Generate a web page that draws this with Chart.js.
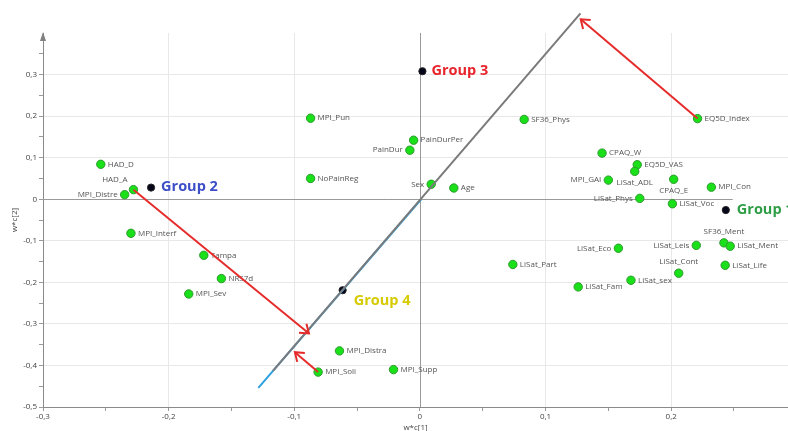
<!DOCTYPE html>
<html>
<head>
<meta charset="utf-8">
<script src="https://cdn.jsdelivr.net/npm/chart.js@4"></script>
<style>
  html, body { margin: 0; padding: 0; background: #fff; }
  #wrap { width: 788px; height: 431px; position: relative; }
</style>
</head>
<body>
<div id="wrap"><canvas id="plot"></canvas></div>
<script>
// loadings w*c[1] / w*c[2]
const varNames = ['HAD_D', 'HAD_A', 'MPI_Distre', 'MPI_Interf', 'Tampa', 'NRS7d', 'MPI_Sev',
  'MPI_Pun', 'PainDurPer', 'PainDur', 'NoPainReg', 'Sex', 'Age', 'SF36_Phys', 'EQ5D_Index',
  'CPAQ_W', 'EQ5D_VAS', 'LiSat_ADL', 'MPI_GAI', 'CPAQ_E', 'MPI_Con', 'LiSat_Phys', 'LiSat_Voc',
  'SF36_Ment', 'LiSat_Ment', 'LiSat_Leis', 'LiSat_Eco', 'LiSat_Life', 'LiSat_Cont', 'LiSat_sex',
  'LiSat_Fam', 'LiSat_Part', 'MPI_Distra', 'MPI_Soli', 'MPI_Supp'];
const varX = [-0.254, -0.228, -0.235, -0.230, -0.172, -0.158, -0.184,
  -0.087, -0.005, -0.008, -0.087, 0.009, 0.027, 0.083, 0.221,
  0.145, 0.173, 0.171, 0.150, 0.202, 0.232, 0.175, 0.201,
  0.242, 0.247, 0.220, 0.158, 0.243, 0.206, 0.168,
  0.126, 0.074, -0.064, -0.081, -0.021];
const varY = [0.084, 0.023, 0.011, -0.082, -0.135, -0.191, -0.228,
  0.195, 0.142, 0.118, 0.050, 0.036, 0.027, 0.192, 0.194,
  0.111, 0.083, 0.067, 0.046, 0.048, 0.029, 0.002, -0.011,
  -0.105, -0.113, -0.111, -0.118, -0.159, -0.178, -0.195,
  -0.211, -0.157, -0.365, -0.416, -0.410];

const groupNames = ['Group 1', 'Group 2', 'Group 3', 'Group 4'];
const groupX = [0.2435, -0.214, 0.002, -0.0615];
const groupY = [-0.026, 0.028, 0.308, -0.219];

const blueLineX = [-0.1286, 0.001];
const blueLineY = [-0.454, 0];
const grayLineX = [-0.117, 0.1278];
const grayLineY = [-0.413, 0.447];

const arrowFromX = [-0.228, -0.081, 0.221];
const arrowFromY = [0.023, -0.416, 0.194];
const arrowToX = [-0.0883, -0.0995, 0.128];
const arrowToY = [-0.323, -0.368, 0.433];

const xTicks = [-0.3, -0.2, -0.1, 0, 0.1, 0.2];
const yTicks = [-0.5, -0.4, -0.3, -0.2, -0.1, 0, 0.1, 0.2, 0.3];

const FONT = '"Open Sans", "DejaVu Sans", sans-serif';
const groupColors = ['#2e9e46', '#3d4fc8', '#e8242c', '#d6cb00'];
const groupOffsets = [[11, 0], [10, -1], [9, 0], [11, 11]];

const leftLabels = ['MPI_Distre', 'PainDur', 'Sex', 'MPI_GAI', 'LiSat_Phys', 'LiSat_Leis', 'LiSat_Eco'];
const aboveLabels = ['SF36_Ment', 'LiSat_Cont'];
const belowLabels = ['LiSat_ADL', 'CPAQ_E'];
const aboveLeftLabels = ['HAD_A'];

function isMajor(v, majors) {
  return majors.some(m => Math.abs(m - v) < 1e-6);
}
function withMinor(majors) {
  const out = [];
  majors.forEach(m => { out.push(m); out.push(+(m + 0.05).toFixed(2)); });
  return out;
}
function fmt(v) {
  if (Math.abs(v) < 1e-9) return '0';
  return v.toFixed(1).replace('.', ',');
}

const pts = (xs, ys) => xs.map((x, i) => ({ x: x, y: ys[i] }));

const datasets = [];
for (let i = 0; i < arrowFromX.length; i++) {
  datasets.push({
    data: [{ x: arrowFromX[i], y: arrowFromY[i] }, { x: arrowToX[i], y: arrowToY[i] }],
    showLine: true, borderColor: '#e62b2b', borderWidth: 2, pointRadius: 0, clip: false
  });
}
datasets.push({ data: pts(grayLineX, grayLineY), showLine: true, borderColor: '#7a7a7a',
  borderWidth: 2, pointRadius: 0, clip: false });
datasets.push({ data: pts(blueLineX, blueLineY), showLine: true, borderColor: '#2fa0e0',
  borderWidth: 2, pointRadius: 0, clip: false });
datasets.push({ data: pts(groupX, groupY), pointRadius: 3.6, backgroundColor: '#06061a',
  borderColor: '#222', borderWidth: 1 });
datasets.push({ data: pts(varX, varY), pointRadius: 4.2, backgroundColor: '#19e019',
  borderColor: '#2b9a2b', borderWidth: 1 });

const annotate = {
  id: 'annotate',
  beforeDatasetsDraw(chart) {
    const ctx = chart.ctx, xs = chart.scales.x, ys = chart.scales.y;
    ctx.save();
    // zero lines
    ctx.strokeStyle = '#9a9a9a';
    ctx.lineWidth = 1;
    ctx.beginPath();
    const y0 = Math.round(ys.getPixelForValue(0)) + 0.5;
    ctx.moveTo(xs.left, y0);
    ctx.lineTo(xs.getPixelForValue(0.249), y0);
    const x0 = Math.round(xs.getPixelForValue(0)) + 0.5;
    ctx.moveTo(x0, ys.top);
    ctx.lineTo(x0, ys.bottom);
    ctx.stroke();

    // variable labels
    ctx.font = '8px ' + FONT;
    ctx.fillStyle = '#555';
    ctx.textBaseline = 'middle';
    varNames.forEach((n, i) => {
      const px = xs.getPixelForValue(varX[i]);
      const py = ys.getPixelForValue(varY[i]);
      if (leftLabels.includes(n)) {
        ctx.textAlign = 'right'; ctx.fillText(n, px - 7, py);
      } else if (aboveLabels.includes(n)) {
        ctx.textAlign = 'center'; ctx.fillText(n, px, py - 11);
      } else if (belowLabels.includes(n)) {
        ctx.textAlign = 'center'; ctx.fillText(n, px, py + 11);
      } else if (aboveLeftLabels.includes(n)) {
        ctx.textAlign = 'right'; ctx.fillText(n, px - 6, py - 10);
      } else {
        ctx.textAlign = 'left'; ctx.fillText(n, px + 7, py);
      }
    });

    // group labels
    ctx.font = 'bold 14.5px ' + FONT;
    ctx.textAlign = 'left';
    groupNames.forEach((g, i) => {
      ctx.fillStyle = groupColors[i];
      ctx.fillText(g, xs.getPixelForValue(groupX[i]) + groupOffsets[i][0],
        ys.getPixelForValue(groupY[i]) + groupOffsets[i][1]);
    });
    ctx.restore();
  },
  afterDatasetsDraw(chart) {
    const ctx = chart.ctx, xs = chart.scales.x, ys = chart.scales.y;
    ctx.save();
    ctx.strokeStyle = '#e62b2b';
    ctx.lineWidth = 2;
    for (let i = 0; i < arrowFromX.length; i++) {
      const x1 = xs.getPixelForValue(arrowFromX[i]), y1 = ys.getPixelForValue(arrowFromY[i]);
      const x2 = xs.getPixelForValue(arrowToX[i]), y2 = ys.getPixelForValue(arrowToY[i]);
      const a = Math.atan2(y2 - y1, x2 - x1);
      const len = 10, spread = Math.PI / 5;
      ctx.beginPath();
      ctx.moveTo(x2 - len * Math.cos(a - spread), y2 - len * Math.sin(a - spread));
      ctx.lineTo(x2, y2);
      ctx.lineTo(x2 - len * Math.cos(a + spread), y2 - len * Math.sin(a + spread));
      ctx.stroke();
    }
    // arrow on top of the y axis
    ctx.fillStyle = '#808080';
    ctx.beginPath();
    ctx.moveTo(xs.left, ys.top - 1);
    ctx.lineTo(xs.left - 3, ys.top + 8);
    ctx.lineTo(xs.left + 3, ys.top + 8);
    ctx.closePath();
    ctx.fill();
    ctx.restore();
  }
};

new Chart(document.getElementById('plot'), {
  type: 'scatter',
  data: { datasets: datasets },
  options: {
    responsive: true,
    maintainAspectRatio: false,
    animation: false,
    devicePixelRatio: 1,
    layout: { autoPadding: false, padding: { top: 33, right: 0, bottom: 0, left: 0 } },
    plugins: { legend: { display: false }, tooltip: { enabled: false } },
    scales: {
      x: {
        type: 'linear', min: -0.3, max: 0.293,
        afterBuildTicks: s => { s.ticks = withMinor(xTicks).map(v => ({ value: v })); },
        afterFit: s => { s.height = 24; },
        border: { color: '#8a8a8a', width: 1 },
        grid: {
          drawOnChartArea: true, tickLength: 4, tickColor: '#9a9a9a',
          color: c => (c.tick && isMajor(c.tick.value, xTicks) && Math.abs(c.tick.value) > 1e-9) ? '#e8e8e8' : 'rgba(0,0,0,0)'
        },
        ticks: {
          autoSkip: false, maxRotation: 0, padding: 1, color: '#444',
          font: { family: FONT, size: 8 },
          callback: v => isMajor(v, xTicks) ? fmt(v) : ''
        },
        title: { display: true, text: 'w*c[1]', color: '#444', padding: { top: 0, bottom: -1 },
          font: { family: FONT, size: 8, lineHeight: 1 } }
      },
      y: {
        type: 'linear', min: -0.5, max: 0.4,
        afterBuildTicks: s => { s.ticks = withMinor(yTicks).map(v => ({ value: v })); },
        afterFit: s => { s.width = 43; },
        border: { color: '#8a8a8a', width: 1 },
        grid: {
          tickLength: 4, tickColor: '#9a9a9a',
          color: c => (c.tick && isMajor(c.tick.value, yTicks) && Math.abs(c.tick.value) > 1e-9) ? '#e8e8e8' : 'rgba(0,0,0,0)'
        },
        ticks: {
          autoSkip: false, padding: 2, color: '#444',
          font: { family: FONT, size: 8 },
          callback: v => isMajor(v, yTicks) ? fmt(v) : ''
        },
        title: { display: true, text: 'w*c[2]', color: '#444', padding: { top: 11, bottom: 0 },
          font: { family: FONT, size: 8, lineHeight: 1 } }
      }
    }
  },
  plugins: [annotate]
});
</script>
</body>
</html>
